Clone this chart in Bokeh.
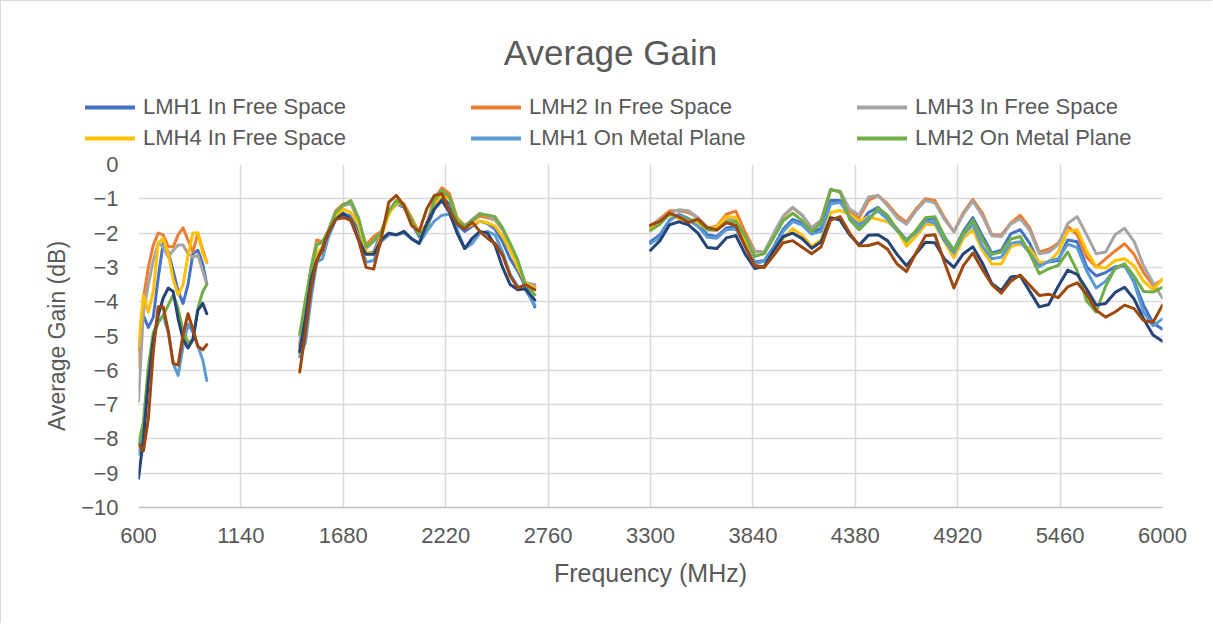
import math
from bokeh.plotting import figure
from bokeh.layouts import column
from bokeh.models import FixedTicker, Legend, LegendItem, Label, Range1d
from bokeh.embed import file_html
from bokeh.resources import INLINE

# ---------------- data ----------------
X_TICKS = [600, 1140, 1680, 2220, 2760, 3300, 3840, 4380, 4920, 5460, 6000]
Y_TICKS = [0, -1, -2, -3, -4, -5, -6, -7, -8, -9, -10]

TITLE = "Average Gain"
X_LABEL = "Frequency (MHz)"
Y_LABEL = "Average Gain (dB)"

SERIES_NAMES = ["LMH1 In Free Space", "LMH2 In Free Space", "LMH3 In Free Space",
                "LMH4 In Free Space", "LMH1 On Metal Plane", "LMH2 On Metal Plane",
                "LMH3 On Metal Plane", "LMH4 On Metal Plane"]
SERIES_COLORS = ["#4472C4", "#ED7D31", "#A5A5A5", "#FFC000",
                 "#5B9BD5", "#70AD47", "#264478", "#9E480E"]
LEGEND_COUNT = 6  # the reference legend lists only the first six series

BAND1_FREQ = [600, 626, 652, 678, 704, 730, 757, 783, 809, 835, 861, 887, 913, 939, 960]
BAND2_FREQ = [1450, 1480, 1510, 1540, 1570, 1600, 1640, 1680, 1720, 1760, 1800, 1840,
              1880, 1920, 1960, 2000, 2040, 2080, 2120, 2160, 2200, 2240, 2280, 2320,
              2360, 2400, 2440, 2480, 2520, 2560, 2600, 2640, 2690]
BAND3_FREQ = [3300, 3350, 3400, 3450, 3500, 3550, 3600, 3650, 3700, 3750,
              3800, 3850, 3900, 3950, 4000, 4050, 4100, 4150, 4200, 4250,
              4300, 4350, 4400, 4450, 4500, 4550, 4600, 4650, 4700, 4750,
              4800, 4850, 4900, 4950, 5000, 5050, 5100, 5150, 5200, 5250,
              5300, 5350, 5400, 5450, 5500, 5550, 5600, 5650, 5700, 5750,
              5800, 5850, 5900, 5950, 6000]

# LMH1 In Free Space
LMH1_FS_B1 = [-5.4, -4.4, -4.75, -4.45, -3.3, -2.3, -2.55, -3.1, -3.7, -4.05, -3.5, -2.6, -2.5, -2.9, -3.5]
LMH1_FS_B2 = [-5.5, -4.5, -3.2, -2.7, -2.45, -2.0, -1.55, -1.45, -1.5, -1.9, -2.6, -2.55, -2.0, -1.4, -1.15,
              -1.25, -1.7, -2.1, -1.85, -1.3, -0.95, -1.15, -1.75, -1.95, -1.8, -1.65, -1.72, -1.88, -2.25,
              -2.75, -3.1, -3.55, -4.15]
LMH1_FS_B3 = [-2.25, -2.05, -1.62, -1.45, -1.58, -1.75, -2.05, -2.10, -1.85, -1.80,
              -2.30, -2.85, -2.80, -2.40, -1.88, -1.60, -1.72, -2.0, -1.85, -1.05,
              -1.05, -1.48, -1.77, -1.40, -1.25, -1.55, -1.88, -2.20, -1.95, -1.60,
              -1.58, -2.10, -2.50, -1.95, -1.55, -2.08, -2.58, -2.50, -2.02, -1.90,
              -2.30, -2.90, -2.84, -2.80, -2.20, -2.25, -2.98, -3.25, -3.15, -2.98,
              -2.95, -3.40, -4.10, -4.62, -4.80]
# LMH2 In Free Space
LMH2_FS_B1 = [-5.9, -3.9, -3.0, -2.35, -2.0, -2.05, -2.4, -2.4, -2.05, -1.85, -2.2, -2.55, -2.0, -2.5, -2.85]
LMH2_FS_B2 = [-5.3, -4.3, -3.0, -2.2, -2.25, -1.95, -1.35, -1.15, -1.12, -1.65, -2.35, -2.1, -1.95, -1.4, -1.05,
              -1.15, -1.55, -1.98, -1.75, -1.0, -0.68, -0.85, -1.55, -1.78, -1.65, -1.5, -1.55, -1.62, -1.9,
              -2.35, -2.9, -3.5, -3.55]
LMH2_FS_B3 = [-1.80, -1.58, -1.35, -1.35, -1.40, -1.55, -1.85, -1.80, -1.45, -1.36,
              -1.98, -2.52, -2.55, -2.05, -1.52, -1.26, -1.48, -1.85, -1.62, -0.72,
              -0.80, -1.35, -1.55, -1.05, -0.90, -1.15, -1.48, -1.68, -1.30, -1.0,
              -1.05, -1.55, -1.96, -1.40, -1.02, -1.42, -2.05, -2.06, -1.70, -1.48,
              -1.85, -2.55, -2.47, -2.30, -1.80, -2.05, -2.70, -2.99, -2.75, -2.52,
              -2.31, -2.62, -3.15, -3.52, -3.37]
# LMH3 In Free Space
LMH3_FS_B1 = [-6.9, -4.3, -3.5, -2.8, -2.3, -2.4, -2.7, -2.5, -2.35, -2.35, -2.6, -2.7, -2.65, -3.1, -3.5]
LMH3_FS_B2 = [-5.2, -4.2, -3.0, -2.3, -2.3, -1.95, -1.4, -1.2, -1.15, -1.6, -2.45, -2.25, -2.0, -1.35, -1.15,
              -1.2, -1.6, -2.0, -1.8, -1.05, -0.8, -0.95, -1.6, -1.8, -1.6, -1.42, -1.5, -1.6, -1.9,
              -2.35, -2.85, -3.45, -3.5]
LMH3_FS_B3 = [-1.82, -1.61, -1.42, -1.32, -1.35, -1.55, -1.85, -1.83, -1.57, -1.58,
              -2.10, -2.55, -2.55, -2.0, -1.50, -1.24, -1.48, -1.85, -1.62, -0.74,
              -0.78, -1.30, -1.48, -0.95, -0.90, -1.20, -1.55, -1.74, -1.35, -1.05,
              -1.12, -1.60, -1.96, -1.45, -1.07, -1.50, -2.08, -2.10, -1.73, -1.58,
              -1.92, -2.60, -2.56, -2.34, -1.72, -1.52, -2.05, -2.60, -2.55, -2.05,
              -1.86, -2.24, -2.95, -3.45, -3.90]
# LMH4 In Free Space
LMH4_FS_B1 = [-5.3, -3.8, -4.3, -3.7, -2.3, -2.15, -2.6, -3.35, -3.8, -3.5, -2.65, -2.0, -2.0, -2.6, -2.85]
LMH4_FS_B2 = [-5.5, -5.0, -3.6, -2.6, -2.4, -2.0, -1.5, -1.3, -1.4, -1.75, -2.55, -2.6, -2.1, -1.45, -1.1,
              -1.2, -1.6, -2.0, -1.8, -1.15, -0.9, -1.0, -1.55, -1.85, -1.75, -1.65, -1.7, -1.8, -2.1,
              -2.5, -3.0, -3.45, -3.6]
LMH4_FS_B3 = [-1.87, -1.66, -1.47, -1.58, -1.63, -1.72, -1.89, -1.82, -1.52, -1.54,
              -2.28, -2.92, -3.0, -2.62, -2.15, -1.87, -2.06, -2.38, -2.20, -1.40,
              -1.34, -1.46, -1.65, -1.53, -1.60, -1.67, -1.90, -2.38, -2.10, -1.75,
              -1.75, -2.25, -2.72, -2.15, -1.90, -2.50, -2.90, -2.90, -2.40, -2.30,
              -2.45, -2.85, -2.84, -2.55, -1.95, -1.90, -2.52, -2.98, -3.02, -2.80,
              -2.75, -2.95, -3.40, -3.65, -3.33]
# LMH1 On Metal Plane
LMH1_MP_B1 = [-8.45, -7.8, -6.0, -5.0, -4.6, -4.4, -4.9, -5.8, -6.15, -5.3, -4.65, -4.9, -5.3, -5.7, -6.3]
LMH1_MP_B2 = [-5.6, -5.2, -3.9, -2.85, -2.75, -2.15, -1.6, -1.5, -1.65, -2.1, -2.85, -2.8, -2.25, -2.05, -2.05,
              -2.0, -2.15, -2.3, -1.95, -1.65, -1.48, -1.45, -1.9, -2.45, -2.3, -2.0, -1.95, -2.05, -2.55,
              -3.2, -3.55, -3.65, -4.1]
LMH1_MP_B3 = [-2.30, -2.12, -1.65, -1.44, -1.62, -1.80, -2.12, -2.15, -1.90, -1.88,
              -2.38, -2.90, -2.82, -2.45, -1.95, -1.66, -1.77, -2.03, -1.95, -1.15,
              -1.10, -1.52, -1.80, -1.55, -1.35, -1.60, -1.93, -2.20, -2.0, -1.65,
              -1.70, -2.22, -2.58, -2.05, -1.75, -2.38, -2.75, -2.70, -2.30, -2.25,
              -2.58, -2.98, -2.82, -2.75, -2.32, -2.42, -3.10, -3.60, -3.40, -3.05,
              -2.90, -3.45, -4.30, -4.70, -4.50]
# LMH2 On Metal Plane
LMH2_MP_B1 = [-8.15, -7.5, -5.9, -4.9, -4.6, -4.4, -4.1, -3.8, -4.2, -4.85, -5.2, -5.1, -4.2, -3.7, -3.5]
LMH2_MP_B2 = [-4.95, -3.95, -3.05, -2.35, -2.25, -1.95, -1.4, -1.18, -1.05, -1.55, -2.4, -2.22, -1.98, -1.35,
              -1.05, -1.2, -1.62, -2.05, -1.85, -1.05, -0.75, -0.95, -1.62, -1.8, -1.62, -1.45, -1.47, -1.52,
              -1.85, -2.3, -2.78, -3.5, -3.8]
LMH2_MP_B3 = [-1.92, -1.74, -1.44, -1.53, -1.61, -1.62, -1.91, -1.92, -1.67, -1.66,
              -2.10, -2.68, -2.60, -2.13, -1.64, -1.42, -1.64, -1.95, -1.70, -0.74,
              -0.79, -1.60, -1.90, -1.63, -1.27, -1.48, -1.90, -2.25, -1.92, -1.55,
              -1.52, -2.12, -2.50, -2.0, -1.62, -2.18, -2.62, -2.55, -2.17, -2.10,
              -2.60, -3.18, -3.04, -2.94, -2.55, -3.10, -3.98, -4.30, -3.55, -3.02,
              -2.90, -3.25, -3.70, -3.72, -3.58]
# LMH3 On Metal Plane
LMH3_MP_B1 = [-9.15, -8.0, -6.3, -5.1, -4.4, -3.9, -3.6, -3.7, -4.5, -5.1, -5.35, -5.1, -4.25, -4.05, -4.35]
LMH3_MP_B2 = [-5.45, -4.5, -3.35, -2.8, -2.45, -2.0, -1.6, -1.42, -1.62, -2.2, -2.62, -2.62, -2.2, -2.0, -2.05,
              -1.95, -2.17, -2.3, -1.72, -1.3, -1.05, -1.4, -2.0, -2.45, -2.15, -1.95, -2.0, -2.35, -3.0,
              -3.5, -3.65, -3.62, -3.95]
LMH3_MP_B3 = [-2.50, -2.22, -1.76, -1.67, -1.76, -2.0, -2.42, -2.45, -2.14, -2.07,
              -2.62, -3.03, -2.97, -2.50, -2.10, -2.0, -2.16, -2.44, -2.25, -1.55,
              -1.62, -2.05, -2.35, -2.06, -2.05, -2.22, -2.62, -2.95, -2.60, -2.27,
              -2.28, -2.75, -3.0, -2.60, -2.40, -2.87, -3.47, -3.68, -3.28, -3.25,
              -3.70, -4.15, -4.08, -3.55, -3.08, -3.20, -3.63, -4.10, -4.05, -3.73,
              -3.58, -3.92, -4.50, -4.97, -5.15]
# LMH4 On Metal Plane
LMH4_MP_B1 = [-8.15, -8.35, -7.4, -5.45, -4.15, -4.15, -4.85, -5.8, -5.85, -4.95, -4.35, -4.8, -5.3, -5.4, -5.25]
LMH4_MP_B2 = [-6.05, -4.9, -3.6, -2.8, -2.5, -2.0, -1.6, -1.55, -1.62, -2.2, -3.0, -3.05, -2.15, -1.1, -0.9,
              -1.2, -1.78, -1.95, -1.3, -0.9, -0.85, -1.35, -1.72, -1.88, -1.68, -1.95, -2.15, -2.3, -2.65,
              -3.25, -3.6, -3.5, -3.65]
LMH4_MP_B3 = [-1.77, -1.66, -1.42, -1.53, -1.69, -1.59, -1.84, -1.90, -1.70, -1.78,
              -2.40, -2.96, -3.0, -2.65, -2.28, -2.22, -2.41, -2.60, -2.40, -1.62,
              -1.52, -2.0, -2.37, -2.36, -2.28, -2.47, -2.90, -3.12, -2.58, -2.08,
              -2.05, -2.85, -3.60, -2.95, -2.58, -3.06, -3.50, -3.75, -3.40, -3.22,
              -3.52, -3.82, -3.78, -3.88, -3.57, -3.45, -3.78, -4.25, -4.45, -4.30,
              -4.10, -4.20, -4.55, -4.60, -4.10]

SERIES_BANDS = [
    (LMH1_FS_B1, LMH1_FS_B2, LMH1_FS_B3),
    (LMH2_FS_B1, LMH2_FS_B2, LMH2_FS_B3),
    (LMH3_FS_B1, LMH3_FS_B2, LMH3_FS_B3),
    (LMH4_FS_B1, LMH4_FS_B2, LMH4_FS_B3),
    (LMH1_MP_B1, LMH1_MP_B2, LMH1_MP_B3),
    (LMH2_MP_B1, LMH2_MP_B2, LMH2_MP_B3),
    (LMH3_MP_B1, LMH3_MP_B2, LMH3_MP_B3),
    (LMH4_MP_B1, LMH4_MP_B2, LMH4_MP_B3),
]


def series_xy(bands):
    xs, ys = [], []
    for freq, vals in zip((BAND1_FREQ, BAND2_FREQ, BAND3_FREQ), bands):
        xs += list(freq) + [math.nan]
        ys += list(vals) + [math.nan]
    return xs, ys


# ---------------- styling ----------------
FONT = "Liberation Sans"
TXT = "#595959"
GRID = "#d9d9d9"
W = 1211
HEAD_H = 150

# ---------------- header: title + legend ----------------
head = figure(width=W, height=HEAD_H, title=None,
              x_range=Range1d(600, 6000), y_range=Range1d(10, 11),  # series lie outside: only legend glyphs show
              x_axis_type=None, y_axis_type=None, output_backend="svg", toolbar_location=None,
              min_border_left=0, min_border_right=0, min_border_top=0, min_border_bottom=0)
if "frame_align" in head.properties():
    head.frame_align = False
head.outline_line_color = None
head.grid.visible = False

head_items = []
for i in range(LEGEND_COUNT):
    hx, hy = series_xy(SERIES_BANDS[i])
    r = head.line(hx, hy, line_color=SERIES_COLORS[i], line_width=4, line_cap="round")
    head_items.append(LegendItem(label=SERIES_NAMES[i], renderers=[r]))

legend = Legend(
    items=head_items, location=(84, 0), orientation="horizontal", ncols=3,
    glyph_width=50, glyph_height=22, label_height=22, label_width=323,
    label_standoff=8, spacing=5, padding=0, margin=0,
    border_line_color=None, background_fill_alpha=0,
    label_text_font=FONT, label_text_font_size="22px", label_text_color=TXT,
)
head.add_layout(legend)

head.add_layout(Label(x=609, y=99, x_units="screen", y_units="screen", text=TITLE,
                      text_align="center", text_baseline="middle", text_font=FONT,
                      text_font_size="35px", text_color=TXT))

# ---------------- main chart ----------------
p = figure(width=W, height=472, title=None, x_range=(600, 6000), y_range=(-10, 0),
           output_backend="svg", toolbar_location=None,
           min_border_left=137, min_border_right=50,
           min_border_top=13, min_border_bottom=116)
if "frame_align" in p.properties():
    p.frame_align = False
p.outline_line_color = None

p.xaxis.ticker = FixedTicker(ticks=X_TICKS)
p.yaxis.ticker = FixedTicker(ticks=Y_TICKS)
p.xgrid.ticker = FixedTicker(ticks=X_TICKS)
p.ygrid.ticker = FixedTicker(ticks=Y_TICKS)
for g in (p.xgrid, p.ygrid):
    g.grid_line_color = GRID
    g.grid_line_width = 1.5

for ax in (p.xaxis, p.yaxis):
    ax.major_tick_line_color = None
    ax.minor_tick_line_color = None
    ax.major_label_text_font = FONT
    ax.major_label_text_font_size = "22px"
    ax.major_label_text_color = TXT
    ax.axis_label_text_font = FONT
    ax.axis_label_text_font_style = "normal"
    ax.axis_label_text_color = TXT

p.xaxis.axis_label = X_LABEL
p.yaxis.axis_label = Y_LABEL
p.xaxis.axis_label_text_font_size = "25px"
p.yaxis.axis_label_text_font_size = "23px"
p.xaxis.axis_line_color = "#bfbfbf"
p.xaxis.axis_line_width = 1.5
p.yaxis.axis_line_color = None
p.xaxis.major_label_standoff = 14
p.xaxis.axis_label_standoff = 13
p.yaxis.major_label_standoff = 14
p.yaxis.axis_label_standoff = 8

for bands, color in zip(SERIES_BANDS, SERIES_COLORS):
    xs, ys = series_xy(bands)
    p.line(xs, ys, line_color=color, line_width=3, line_join="round", line_cap="round")

layout = column(head, p, spacing=0,
                styles={"border-left": "1px solid #d9d9d9", "border-top": "1px solid #d9d9d9"})

open("out.html", "w").write(file_html(layout, INLINE))
